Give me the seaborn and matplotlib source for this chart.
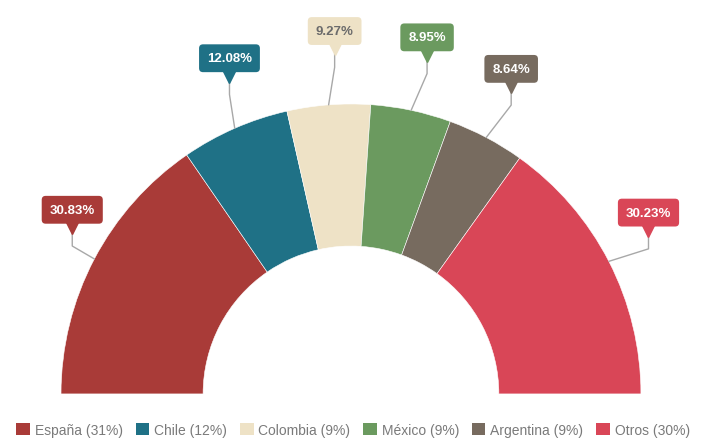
import numpy as np
import matplotlib
matplotlib.use("Agg")
import matplotlib.pyplot as plt
import seaborn as sns

# data
countries = ["España", "Chile", "Colombia", "México", "Argentina", "Otros"]
shares = [30.83, 12.08, 9.27, 8.95, 8.64, 30.23]
legend_pct = [31, 12, 9, 9, 9, 30]
colors = ["#A93B38", "#1F7186", "#EEE2C6", "#6B9A5F", "#776B5F", "#D94657"]
text_colors = ["white", "white", "#6b6b6b", "white", "white", "white"]

sns.set_theme(style="white")
plt.rcParams['font.family'] = ['Liberation Sans', 'DejaVu Sans']

fig = plt.figure(figsize=(7.06, 4.39), dpi=100)
ax = fig.add_axes([0, 0, 1, 1])

# half donut: pie with an invisible lower half
vals = shares + [sum(shares)]
wedges, _ = ax.pie(vals, colors=colors + ["none"], startangle=180, counterclock=False,
                   radius=1.0, wedgeprops=dict(width=0.49, edgecolor="white", linewidth=0.4))
wedges[-1].set_edgecolor("none")

ax.set_aspect("equal")
ax.set_xlim(-1.210, 1.224)
ax.set_ylim(-0.152, 1.362)
ax.axis("off")

# callout labels
cum = np.cumsum([0] + shares)
for i, name in enumerate(countries):
    mid = np.deg2rad(180 - (cum[i] + shares[i] / 2) * 1.8)
    ex, ey = np.cos(mid), np.sin(mid)
    bx, by = 1.12 * np.cos(mid) + 0.03, 1.16 * np.sin(mid) + 0.095
    ty = by - 0.075
    ax.plot([ex, bx, bx], [ey, ty - 0.05, ty], color="#a8a8a8", lw=1, zorder=1)
    ax.plot(bx, ty + 0.012, marker="v", ms=8, color=colors[i], mec=colors[i], zorder=3)
    ax.text(bx, by, f"{shares[i]:.2f}%", ha="center", va="center",
            fontsize=9.5, fontweight="bold", color=text_colors[i], zorder=4,
            bbox=dict(boxstyle="round,pad=0.6,rounding_size=0.3", fc=colors[i], ec="none"))

# legend at the bottom
handles = [plt.Rectangle((0, 0), 1, 1, fc=c, ec="none") for c in colors]
labels = [f"{n} ({p}%)" for n, p in zip(countries, legend_pct)]
fig.legend(handles, labels, loc="lower center", ncol=6, frameon=False,
           fontsize=10, labelcolor="#7a7a7a", handlelength=1.0, handleheight=1.0,
           handletextpad=0.35, columnspacing=0.9, bbox_to_anchor=(0.5, -0.026))

fig.savefig("out.png", dpi=100)
